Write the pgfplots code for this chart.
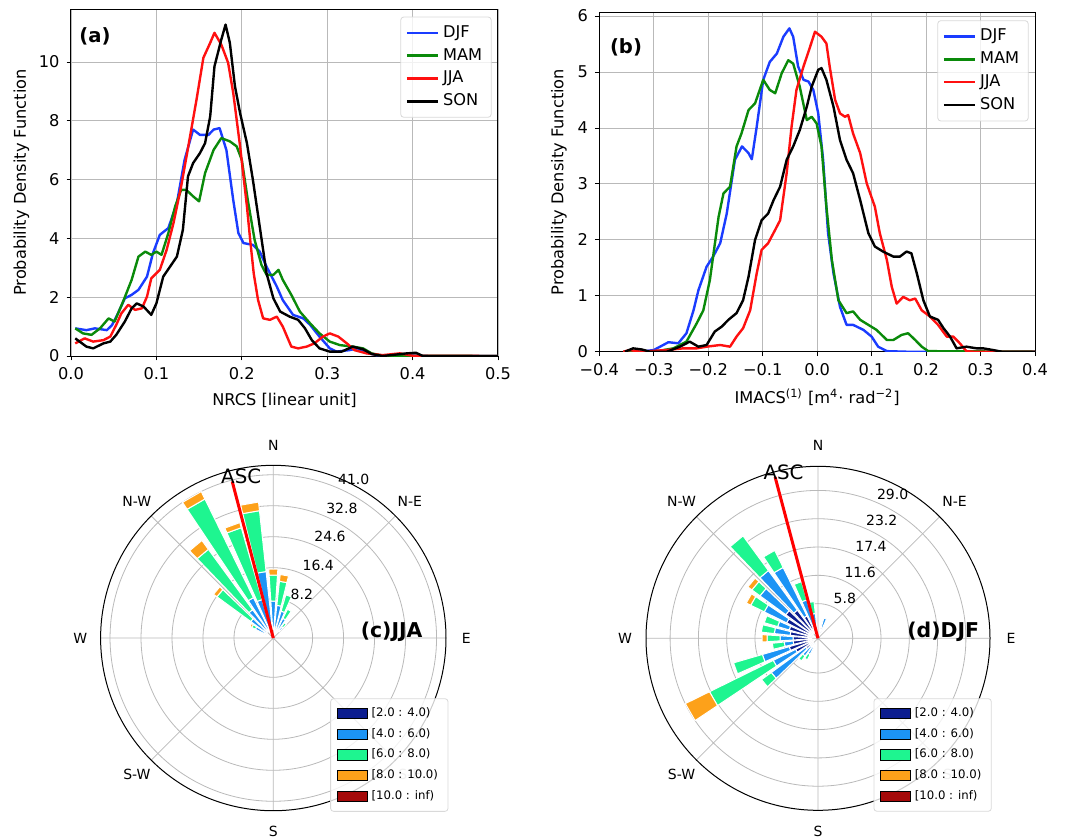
\documentclass[border=0pt]{standalone}
\usepackage{fontspec}
\setmainfont{DejaVu Sans}
\usepackage{pgfplots}
\pgfplotsset{compat=1.18}
\usepgfplotslibrary{polar}

\definecolor{cDJF}{HTML}{1A3CFF}
\definecolor{cMAM}{HTML}{0A8A0A}
\definecolor{cJJA}{HTML}{FF1010}
\definecolor{wrN}{HTML}{0C1D8F}
\definecolor{wrB}{HTML}{1C94F5}
\definecolor{wrG}{HTML}{1EF590}
\definecolor{wrO}{HTML}{FDA11A}
\definecolor{wrR}{HTML}{A50A0A}

\newcommand\fs[1]{\fontsize{#1}{#1}\selectfont}

% one stacked piece of a wind-rose bar: compass angle, lower, upper, colour
\newcommand\seg[4]{%
  \pgfmathsetmacro\segA{90-(#1)-3.8}%
  \pgfmathsetmacro\segB{90-(#1)+3.8}%
  \edef\segcmd{\noexpand\addplot[forget plot, fill=#4, draw=white, line width=0.5pt,
    y filter/.expression={y+\roseoff}]
    coordinates {(\segA,#2) (\segA,#3) (\segB,#3) (\segB,#2) (\segA,#2)};}%
  \segcmd}

% text label placed in axis coordinates (angle, radius)
\newcommand\lbl[4][]{\node[#1] at (axis cs:#2,#3) {#4};}

\pgfplotsset{
  pdf/.style={
    scale only axis, anchor=south west,
    grid=major, major grid style={draw=gray!55, line width=0.4pt},
    axis line style={draw=black, line width=0.5pt},
    tick align=outside, major tick length=2.2pt,
    xtick pos=bottom, ytick pos=left,
    tick style={black, line width=0.4pt},
    ticklabel style={font=\fs{8.1}},
    label style={font=\fs{8.1}},
    ylabel={Probability Density Function},
    every axis plot/.append style={line width=1.2pt, line join=round},
    legend image code/.code={\draw[##1] (0pt,0pt) -- (15.5pt,0pt);},
    legend cell align=left,
    legend style={at={(1,1)}, anchor=north east, xshift=-3.2pt, yshift=-3.8pt,
      draw=gray!30, fill=white, fill opacity=0.8, text opacity=1,
      rounded corners=1.5pt, font=\fs{8.1}, row sep=0pt,
      nodes={inner ysep=2pt},
      inner xsep=2.5pt, inner ysep=2.2pt},
  },
  wrleg/.style={legend image code/.code={%
    \draw[sharp corners, fill=#1, fill opacity=1, draw=black, line width=0.5pt]
      (0pt,-2.6pt) rectangle (15pt,2.6pt);}},
  rose/.style={
    scale only axis, anchor=center, clip=false,
    xmin=0, xmax=360,
    xtick={0,45,...,315}, xticklabels={}, yticklabels={},
    grid=major, major grid style={draw=gray!55, line width=0.4pt},
    axis line style={draw=black, line width=0.5pt},
    y axis line style={draw=none},
    tick style={draw=none},
    legend cell align=left,
    legend style={anchor=south east, draw=gray!30, fill=white,
      fill opacity=0.8, text opacity=1, rounded corners=1.5pt,
      font=\fs{5.85}, row sep=0.4pt, inner xsep=3pt, inner ysep=2.5pt},
  },
}

\begin{document}
\begin{tikzpicture}

% ---------------- (a) NRCS ----------------
\begin{axis}[pdf,
  at={(35.5pt,-178pt)}, width=213.5pt, height=173.5pt,
  xmin=0, xmax=0.5, ymin=0, ymax=11.8,
  xtick={0,0.1,0.2,0.3,0.4,0.5}, xticklabels={0.0,0.1,0.2,0.3,0.4,0.5},
  ytick={0,2,4,6,8,10}, yticklabels={0,2,4,6,8,10},
  xlabel={NRCS [linear unit]}, ylabel style={yshift=-2pt},
]
\addplot[cDJF] coordinates {(0.005,0.94)(0.018,0.88)(0.028,0.94)(0.042,0.88)(0.048,1.05)(0.055,1.45)(0.063,1.96)(0.071,2.08)(0.079,2.25)(0.089,2.7)(0.096,3.5)(0.104,4.12)(0.114,4.35)(0.124,5.2)(0.133,6.67)(0.143,7.7)(0.151,7.52)(0.161,7.52)(0.167,7.7)(0.174,7.75)(0.182,7.0)(0.19,5.3)(0.196,4.18)(0.202,3.84)(0.213,3.78)(0.221,3.55)(0.229,3.04)(0.241,2.36)(0.248,1.9)(0.26,1.4)(0.272,1.28)(0.28,1.06)(0.291,0.66)(0.303,0.26)(0.311,0.15)(0.326,0.2)(0.336,0.26)(0.346,0.11)(0.358,0.03)(0.38,0.01)(0.4,0.02)(0.42,0)(0.5,0)};
\addlegendentry{DJF}
\addplot[cMAM] coordinates {(0.005,0.94)(0.014,0.77)(0.024,0.72)(0.034,0.94)(0.044,1.28)(0.051,1.17)(0.061,1.85)(0.071,2.59)(0.079,3.38)(0.087,3.55)(0.094,3.44)(0.1,3.55)(0.106,3.44)(0.114,4.18)(0.122,5.09)(0.129,5.65)(0.135,5.65)(0.143,5.43)(0.15,5.26)(0.157,6.22)(0.167,7.01)(0.176,7.41)(0.186,7.3)(0.194,7.13)(0.2,6.67)(0.207,5.31)(0.215,3.95)(0.223,3.1)(0.229,2.76)(0.237,2.76)(0.243,2.93)(0.248,2.59)(0.258,2.08)(0.268,1.51)(0.28,1.11)(0.291,0.77)(0.303,0.49)(0.315,0.37)(0.33,0.32)(0.342,0.26)(0.352,0.09)(0.365,0.01)(0.5,0)};
\addlegendentry{MAM}
\addplot[cJJA] coordinates {(0.005,0.43)(0.016,0.6)(0.026,0.49)(0.038,0.54)(0.046,0.66)(0.053,1.06)(0.059,1.45)(0.067,1.74)(0.075,1.57)(0.083,1.62)(0.089,2.02)(0.094,2.64)(0.104,2.93)(0.112,3.61)(0.12,4.52)(0.129,5.77)(0.137,7.07)(0.147,8.72)(0.155,10.14)(0.163,10.65)(0.168,10.99)(0.176,10.59)(0.184,9.97)(0.19,8.94)(0.198,7.13)(0.206,5.09)(0.21,3.9)(0.214,2.8)(0.219,1.91)(0.225,1.28)(0.233,1.23)(0.241,1.34)(0.248,1.0)(0.258,0.32)(0.266,0.26)(0.276,0.32)(0.285,0.43)(0.295,0.66)(0.303,0.77)(0.313,0.66)(0.323,0.43)(0.332,0.2)(0.346,0.09)(0.365,0.03)(0.385,0.09)(0.4,0.01)(0.5,0)};
\addlegendentry{JJA}
\addplot[black] coordinates {(0.005,0.6)(0.018,0.32)(0.026,0.26)(0.038,0.43)(0.046,0.49)(0.053,0.72)(0.063,1.17)(0.071,1.62)(0.077,1.79)(0.085,1.68)(0.094,1.4)(0.1,1.79)(0.108,2.7)(0.116,3.04)(0.124,3.38)(0.131,4.29)(0.137,6.11)(0.143,6.56)(0.151,6.9)(0.157,7.24)(0.163,8.15)(0.168,9.85)(0.176,10.76)(0.181,11.27)(0.186,10.65)(0.192,9.17)(0.198,8.26)(0.206,7.24)(0.213,5.99)(0.221,4.4)(0.229,2.81)(0.237,1.96)(0.245,1.51)(0.256,1.34)(0.266,1.23)(0.274,0.94)(0.282,0.54)(0.291,0.26)(0.303,0.15)(0.317,0.15)(0.33,0.32)(0.342,0.23)(0.352,0.07)(0.365,0)(0.393,0.09)(0.404,0.11)(0.412,0)(0.5,0)};
\addlegendentry{SON}
\end{axis}

% ---------------- (b) IMACS ----------------
\begin{axis}[pdf,
  at={(299.65pt,-175.85pt)}, width=217.85pt, height=169.5pt,
  xmin=-0.4, xmax=0.4, ymin=0, ymax=6.06,
  xtick={-0.4,-0.3,-0.2,-0.1,0,0.1,0.2,0.3,0.4},
  xticklabels={−0.4,−0.3,−0.2,−0.1,0.0,0.1,0.2,0.3,0.4},
  ytick={0,1,2,3,4,5,6}, yticklabels={0,1,2,3,4,5,6},
  xlabel={IMACS\textsuperscript{(1)} [m\textsuperscript{4}· rad\textsuperscript{−2}]},
  ylabel style={yshift=-1.5pt},
]
\addplot[cDJF] coordinates {(-0.356,0)(-0.325,0)(-0.3,0.03)(-0.273,0.17)(-0.255,0.15)(-0.24,0.33)(-0.227,0.74)(-0.218,1.1)(-0.203,1.52)(-0.191,1.7)(-0.178,1.94)(-0.166,2.47)(-0.151,3.43)(-0.138,3.67)(-0.126,3.55)(-0.12,3.44)(-0.111,4.02)(-0.099,4.86)(-0.087,5.18)(-0.074,5.33)(-0.062,5.63)(-0.051,5.78)(-0.044,5.63)(-0.035,5.1)(-0.025,4.86)(-0.016,4.83)(-0.007,4.68)(0.002,4.26)(0.011,3.43)(0.02,2.12)(0.03,1.4)(0.042,0.8)(0.054,0.48)(0.066,0.48)(0.085,0.39)(0.1,0.27)(0.112,0.09)(0.128,0.01)(0.164,0)(0.4,0)};
\addlegendentry{DJF}
\addplot[cMAM] coordinates {(-0.356,0)(-0.3,0)(-0.264,0.06)(-0.24,0.18)(-0.221,0.51)(-0.209,0.74)(-0.197,1.28)(-0.181,2.41)(-0.172,2.83)(-0.16,2.95)(-0.148,3.67)(-0.139,3.9)(-0.126,4.32)(-0.114,4.44)(-0.099,4.86)(-0.087,4.68)(-0.077,4.62)(-0.065,4.98)(-0.053,5.21)(-0.044,5.15)(-0.032,4.74)(-0.019,4.14)(-0.01,4.2)(-0.001,4.08)(0.008,3.67)(0.017,2.59)(0.027,1.64)(0.039,0.92)(0.054,0.69)(0.066,0.72)(0.079,0.57)(0.094,0.48)(0.109,0.39)(0.128,0.21)(0.14,0.21)(0.155,0.3)(0.167,0.33)(0.18,0.21)(0.192,0.09)(0.204,0.01)(0.4,0)};
\addlegendentry{MAM}
\addplot[cJJA] coordinates {(-0.356,0)(-0.344,0.03)(-0.325,0)(-0.276,0.03)(-0.246,0.06)(-0.221,0.06)(-0.203,0.09)(-0.178,0.12)(-0.16,0.09)(-0.148,0.27)(-0.136,0.42)(-0.123,0.74)(-0.111,1.4)(-0.102,1.82)(-0.09,1.94)(-0.077,2.18)(-0.068,2.35)(-0.056,3.19)(-0.047,4.02)(-0.038,4.68)(-0.025,5.1)(-0.013,5.45)(-0.004,5.72)(0.008,5.63)(0.017,5.51)(0.023,5.1)(0.033,4.5)(0.042,4.26)(0.051,4.2)(0.057,4.23)(0.066,3.9)(0.079,3.55)(0.091,3.01)(0.106,2.59)(0.115,2.12)(0.128,1.64)(0.137,1.16)(0.146,0.86)(0.158,0.98)(0.17,0.92)(0.18,0.95)(0.192,0.74)(0.207,0.63)(0.222,0.48)(0.238,0.27)(0.25,0.27)(0.262,0.15)(0.274,0.01)(0.287,0)(0.4,0)};
\addlegendentry{JJA}
\addplot[black] coordinates {(-0.353,0)(-0.338,0.06)(-0.322,0.04)(-0.307,0)(-0.276,0)(-0.252,0.09)(-0.234,0.18)(-0.218,0.09)(-0.203,0.12)(-0.188,0.36)(-0.175,0.45)(-0.163,0.57)(-0.148,0.69)(-0.136,0.92)(-0.126,1.34)(-0.114,2.0)(-0.102,2.35)(-0.09,2.47)(-0.08,2.71)(-0.068,2.95)(-0.056,3.43)(-0.044,3.67)(-0.032,3.96)(-0.019,4.38)(-0.01,4.74)(0.002,5.04)(0.008,5.07)(0.017,4.86)(0.03,4.38)(0.042,3.78)(0.054,3.43)(0.066,3.19)(0.079,2.71)(0.094,2.12)(0.106,1.88)(0.121,1.79)(0.14,1.7)(0.152,1.7)(0.164,1.79)(0.173,1.76)(0.183,1.4)(0.195,0.92)(0.207,0.63)(0.222,0.57)(0.232,0.42)(0.244,0.27)(0.256,0.06)(0.274,0.09)(0.293,0.06)(0.305,0.06)(0.323,0.03)(0.339,0)(0.4,0)};
\addlegendentry{SON}
\end{axis}

% ---------------- (c) wind rose JJA ----------------
\begin{polaraxis}[rose,
  at={(136.65pt,-319pt)}, width=172.7pt, height=172.7pt,
  ymin=0, ymax=45.7, ytick={10.4,18.6,26.8,35.0,43.2},
  legend style={at={(1.007,-0.003)}},
]
\def\roseoff{2.2}
\seg{-60}{0}{3.1}{wrB}  \seg{-60}{3.1}{4.15}{wrG}  \seg{-60}{4.15}{4.7}{wrO}
\seg{-50}{0}{5.2}{wrB}  \seg{-50}{5.2}{16.3}{wrG}  \seg{-50}{16.3}{17.4}{wrO}
\seg{-40}{0}{7.1}{wrB}  \seg{-40}{7.1}{26.9}{wrG}  \seg{-40}{26.9}{29.8}{wrO}
\seg{-30}{0}{9.7}{wrB}  \seg{-30}{9.7}{38.8}{wrG}  \seg{-30}{38.8}{41.0}{wrO}
\seg{-20}{0}{8.4}{wrB}  \seg{-20}{8.4}{28.2}{wrG}  \seg{-20}{28.2}{29.6}{wrO}
\seg{-10}{0}{15.5}{wrB} \seg{-10}{15.5}{31.7}{wrG} \seg{-10}{31.7}{34.0}{wrO}
\seg{0}{0}{7.6}{wrB}    \seg{0}{7.6}{14.5}{wrG}    \seg{0}{14.5}{16.1}{wrO}
\seg{10}{0}{6.5}{wrB}   \seg{10}{6.5}{12.9}{wrG}   \seg{10}{12.9}{14.7}{wrO}
\seg{20}{0}{5.2}{wrB}   \seg{20}{5.2}{9.7}{wrG}
\seg{30}{0}{3.6}{wrB}   \seg{30}{3.6}{6.3}{wrG}
\seg{40}{0}{1.5}{wrB}   \seg{40}{1.5}{2.8}{wrG}
\addplot[forget plot, draw=red, line width=1.5pt] coordinates {(104.7,0) (104.7,42.86)};
\lbl[font=\fs{9.9}, xshift=4.5pt, yshift=2.5pt]{104.7}{42.86}{ASC}
\lbl[anchor=south west, inner sep=1pt, font=\fs{7}]{67.5}{10.4}{8.2}
\lbl[anchor=south west, inner sep=1pt, font=\fs{7}]{67.5}{18.6}{16.4}
\lbl[anchor=south west, inner sep=1pt, font=\fs{7}]{67.5}{26.8}{24.6}
\lbl[anchor=south west, inner sep=1pt, font=\fs{7}]{67.5}{35.0}{32.8}
\lbl[anchor=south west, inner sep=1pt, font=\fs{7}]{67.5}{43.2}{41.0}
\lbl[font=\fs{7}]{90}{51.06}{N}
\lbl[font=\fs{7}]{45}{51.06}{N-E}
\lbl[font=\fs{7}]{0}{51.06}{E}
\lbl[font=\fs{7}, text=gray!60]{315}{51.06}{S-E}
\lbl[font=\fs{7}]{270}{51.06}{S}
\lbl[font=\fs{7}]{225}{51.06}{S-W}
\lbl[font=\fs{7}]{180}{51.06}{W}
\lbl[font=\fs{7}]{135}{51.06}{N-W}
\lbl[font=\bfseries\fs{10.2}]{3.05}{31.37}{(c)JJA}
\addlegendimage{wrleg=wrN}\addlegendentry{[2.0 : 4.0)}
\addlegendimage{wrleg=wrB}\addlegendentry{[4.0 : 6.0)}
\addlegendimage{wrleg=wrG}\addlegendentry{[6.0 : 8.0)}
\addlegendimage{wrleg=wrO}\addlegendentry{[8.0 : 10.0)}
\addlegendimage{wrleg=wrR}\addlegendentry{[10.0 : inf)}
\end{polaraxis}

% ---------------- (d) wind rose DJF ----------------
\begin{polaraxis}[rose,
  at={(409pt,-319.15pt)}, width=172pt, height=172pt,
  ymin=0, ymax=35.25, ytick={7.11,12.91,18.71,24.51,30.31},
  legend style={at={(1.005,-0.004)}},
]
\def\roseoff{1.31}
\seg{20}{0}{1.0}{wrN}    \seg{20}{1.0}{3.0}{wrB}
\seg{-10}{0}{0.74}{wrN}  \seg{-10}{0.74}{3.81}{wrB}  \seg{-10}{3.81}{6.27}{wrG}
\seg{-20}{0}{1.15}{wrN}  \seg{-20}{1.15}{6.89}{wrB}  \seg{-20}{6.89}{10.78}{wrG}
\seg{-30}{0}{3.81}{wrN}  \seg{-30}{3.81}{14.88}{wrB} \seg{-30}{14.88}{18.77}{wrG}
\seg{-40}{0}{5.86}{wrN}  \seg{-40}{5.86}{15.9}{wrB}  \seg{-40}{15.9}{24.71}{wrG}
\seg{-50}{0}{6.89}{wrN}  \seg{-50}{6.89}{13.44}{wrB} \seg{-50}{13.44}{15.49}{wrG} \seg{-50}{15.49}{16.52}{wrO}
\seg{-60}{0}{5.86}{wrN}  \seg{-60}{5.86}{10.98}{wrB} \seg{-60}{10.98}{14.06}{wrG} \seg{-60}{14.06}{15.08}{wrO}
\seg{-70}{0}{4.84}{wrN}  \seg{-70}{4.84}{7.3}{wrB}   \seg{-70}{7.3}{10.16}{wrG}
\seg{-80}{0}{4.43}{wrN}  \seg{-80}{4.43}{7.7}{wrB}   \seg{-80}{7.7}{10.37}{wrG}
\seg{-90}{0}{3.81}{wrN}  \seg{-90}{3.81}{6.48}{wrB}  \seg{-90}{6.48}{9.14}{wrG}   \seg{-90}{9.14}{10.16}{wrO}
\seg{-100}{0}{3.81}{wrN} \seg{-100}{3.81}{5.66}{wrB} \seg{-100}{5.66}{8.11}{wrG}
\seg{-110}{0}{4.84}{wrN} \seg{-110}{4.84}{10.57}{wrB} \seg{-110}{10.57}{16.72}{wrG}
\seg{-120}{0}{3.81}{wrN} \seg{-120}{3.81}{8.93}{wrB} \seg{-120}{8.93}{23.48}{wrG} \seg{-120}{23.48}{29.0}{wrO}
\seg{-130}{0}{1.76}{wrN} \seg{-130}{1.76}{10.57}{wrB} \seg{-130}{10.57}{13.03}{wrG}
\seg{-140}{0}{0.74}{wrN} \seg{-140}{0.74}{3.2}{wrB}  \seg{-140}{3.2}{4.43}{wrG}
\seg{-150}{0}{2.38}{wrB} \seg{-150}{2.38}{3.6}{wrG}
\addplot[forget plot, draw=red, line width=1.5pt] coordinates {(104.9,0) (104.9,34.2)};
\lbl[font=\fs{9.9}, xshift=4.2pt, yshift=2.5pt]{104.9}{34.2}{ASC}
\lbl[anchor=south west, inner sep=1pt, font=\fs{7}]{67.5}{7.11}{5.8}
\lbl[anchor=south west, inner sep=1pt, font=\fs{7}]{67.5}{12.91}{11.6}
\lbl[anchor=south west, inner sep=1pt, font=\fs{7}]{67.5}{18.71}{17.4}
\lbl[anchor=south west, inner sep=1pt, font=\fs{7}]{67.5}{24.51}{23.2}
\lbl[anchor=south west, inner sep=1pt, font=\fs{7}]{67.5}{30.31}{29.0}
\lbl[font=\fs{7}]{90}{39.55}{N}
\lbl[font=\fs{7}]{45}{39.55}{N-E}
\lbl[font=\fs{7}]{0}{39.55}{E}
\lbl[font=\fs{7}, text=gray!60]{315}{39.55}{S-E}
\lbl[font=\fs{7}]{270}{39.55}{S}
\lbl[font=\fs{7}]{225}{39.55}{S-W}
\lbl[font=\fs{7}]{180}{39.55}{W}
\lbl[font=\fs{7}]{135}{39.55}{N-W}
\lbl[font=\bfseries\fs{10.2}]{3.0}{25.7}{(d)DJF}
\addlegendimage{wrleg=wrN}\addlegendentry{[2.0 : 4.0)}
\addlegendimage{wrleg=wrB}\addlegendentry{[4.0 : 6.0)}
\addlegendimage{wrleg=wrG}\addlegendentry{[6.0 : 8.0)}
\addlegendimage{wrleg=wrO}\addlegendentry{[8.0 : 10.0)}
\addlegendimage{wrleg=wrR}\addlegendentry{[10.0 : inf)}
\end{polaraxis}

\node[font=\bfseries\fs{9.8}] at (47.5pt,-18.35pt) {(a)};
\node[font=\bfseries\fs{9.8}] at (313pt,-23.85pt) {(b)};

\pgfresetboundingbox
\path[use as bounding box] (0pt,0pt) rectangle (545.5pt,-418.5pt);
\end{tikzpicture}
\end{document}
